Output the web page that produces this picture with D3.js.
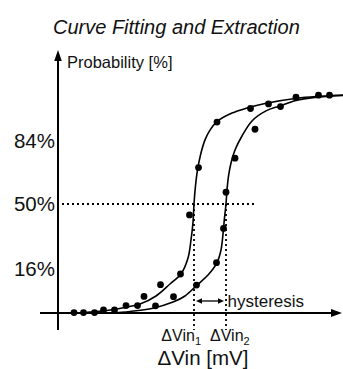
<!DOCTYPE html>
<html>
<head>
<meta charset="utf-8">
<script src="https://cdn.jsdelivr.net/npm/d3@7"></script>
<style>
  html, body { margin: 0; padding: 0; background: #fff; }
  svg { display: block; font-family: "Liberation Sans", Arial, Helvetica, sans-serif; }
</style>
</head>
<body>
<svg id="chart" width="343" height="369"></svg>
<script>
// ---------- data ----------
const title = "Curve Fitting and Extraction";
const yAxisLabel = "Probability [%]";
const xAxisLabel = "ΔVin [mV]";

// measured points, sweep 1 (left curve): ΔVin [mV], probability [%]
const dots1V = [3.2, 5.1, 7.3, 9.1, 11.3, 13.6, 15.9, 17.2, 20.5, 24.5, 26.3, 28.1, 31.8, 38.5, 42.1, 47.6, 52.1, 54.3];
const dots1P = [0.2, 0.2, 0.2, 1.4, 1.4, 3.4, 3.4, 7.6, 13.0, 17.9, 45.0, 66.7, 87.6, 93.8, 95.9, 99.0, 99.9, 99.9];
// measured points, sweep 2 (right curve)
const dots2V = [19.5, 23.1, 27.7, 31.7, 33.1, 33.6, 35.4, 39.4, 44.5];
const dots2P = [3.3, 7.5, 12.8, 23.1, 38.8, 55.4, 71.0, 84.3, 94.7];

// fitted curve 1
const fit1V = [3.4, 6.4, 9.4, 12.8, 16.4, 19.6, 22.4, 24.6, 26.0, 26.6, 27.0, 27.2, 27.5, 27.9, 28.5, 29.4, 30.4, 31.8, 34.8, 37.8, 41.4, 47.8, 52.4, 57.0];
const fit1P = [0, 0.4, 1.0, 2.3, 4.1, 7.8, 13.3, 17.9, 25.2, 33.5, 41.7, 50, 58.3, 65.6, 72.5, 79.4, 83.9, 87.8, 91.7, 94.0, 96.1, 98.5, 99.4, 100];
// fitted curve 2
const fit2V = [10.4, 14.4, 19.0, 23.0, 25.4, 27.8, 30.0, 31.8, 32.6, 33.0, 33.3, 33.6, 33.8, 34.1, 34.6, 35.4, 36.8, 38.8, 41.6, 44.4, 47.6, 51.4, 57.0];
const fit2P = [0, 0.7, 2.2, 5.0, 7.8, 12.8, 17.4, 23.1, 28.9, 36.2, 43.6, 50, 56.4, 62.8, 68.8, 74.8, 81.2, 88.1, 92.7, 95.0, 97.5, 98.9, 99.8];

// extracted thresholds
const vinLabels = [{base: "ΔVin", sub: "1"}, {base: "ΔVin", sub: "2"}];
const vinValues = [27.2, 33.6];
const thresholdP = 50;
const hysteresisLabel = "hysteresis";

// y tick labels (sigma positions of a normal distribution)
const tickSigma = [-1, 0, 1];
const tickLabels = ["16%", "50%", "84%"];

// ---------- chart ----------
const svg = d3.select("#chart");
const x = d3.scaleLinear().domain([0, 57]).range([58, 343]);
const y = d3.scaleLinear().domain([0, 100]).range([313, 95]);
const ySigma = d3.scaleLinear().domain([-1, 0, 1]).range([268.9, y(thresholdP), 140.3]);

// title
svg.append("text").attr("x", 53).attr("y", 34)
  .attr("font-size", 20).attr("font-style", "italic").attr("fill", "#111")
  .text(title);

// axes
const x0 = x(0), y0 = y(0);
svg.append("line").attr("x1", x0).attr("x2", x0).attr("y1", 330).attr("y2", 60)
  .attr("stroke", "#000").attr("stroke-width", 2);
svg.append("path").attr("d", `M${x0},50 L${x0 - 3.8},61 L${x0 + 3.8},61 Z`).attr("fill", "#000");
svg.append("line").attr("x1", 40).attr("x2", 333).attr("y1", y0).attr("y2", y0)
  .attr("stroke", "#000").attr("stroke-width", 2);
svg.append("path").attr("d", `M342,${y0} L331,${y0 - 4} L331,${y0 + 4} Z`).attr("fill", "#000");

svg.append("text").attr("x", 67).attr("y", 68).attr("font-size", 16.5).attr("fill", "#111")
  .text(yAxisLabel);

// tick labels
svg.selectAll("text.tick").data(tickSigma).join("text").attr("class", "tick")
  .attr("x", 55).attr("y", d => ySigma(d)).attr("dy", 7.2)
  .attr("text-anchor", "end").attr("font-size", 20.5).attr("fill", "#111")
  .text((d, i) => tickLabels[i]);

// dotted guides
svg.append("line").attr("x1", 62).attr("x2", 256).attr("y1", y(thresholdP)).attr("y2", y(thresholdP))
  .attr("stroke", "#000").attr("stroke-width", 1.8).attr("stroke-dasharray", "2,3");
vinValues.forEach(v => {
  svg.append("line").attr("x1", x(v)).attr("x2", x(v)).attr("y1", y(thresholdP)).attr("y2", 330)
    .attr("stroke", "#000").attr("stroke-width", 1.8).attr("stroke-dasharray", "2,3");
});

// fitted curves
const line = d3.line().x(d => x(d[0])).y(d => y(d[1])).curve(d3.curveCatmullRom.alpha(0.5));
[[fit1V, fit1P], [fit2V, fit2P]].forEach(([vs, ps]) => {
  svg.append("path").datum(vs.map((v, i) => [v, ps[i]])).attr("d", line)
    .attr("fill", "none").attr("stroke", "#000").attr("stroke-width", 1.6);
});

// measured points
const pts = dots1V.map((v, i) => [v, dots1P[i]]).concat(dots2V.map((v, i) => [v, dots2P[i]]));
svg.selectAll("circle.pt").data(pts).join("circle").attr("class", "pt")
  .attr("cx", d => x(d[0])).attr("cy", d => y(d[1])).attr("r", 3.4).attr("fill", "#000");

// hysteresis arrow
const ay = 301;
const ax1 = x(vinValues[0]) + 2, ax2 = x(vinValues[1]) - 2;
svg.append("line").attr("x1", ax1 + 4).attr("x2", ax2 - 4).attr("y1", ay).attr("y2", ay)
  .attr("stroke", "#000").attr("stroke-width", 1.3);
svg.append("path").attr("d", `M${ax1},${ay} L${ax1 + 6},${ay - 2.8} L${ax1 + 6},${ay + 2.8} Z`).attr("fill", "#000");
svg.append("path").attr("d", `M${ax2},${ay} L${ax2 - 6},${ay - 2.8} L${ax2 - 6},${ay + 2.8} Z`).attr("fill", "#000");
svg.append("text").attr("x", x(vinValues[1]) + 1.5).attr("y", 306.5).attr("font-size", 17).attr("fill", "#111")
  .text(hysteresisLabel);

// ΔVin labels: first ends left of the midpoint, second starts at the midpoint
const vinMid = (x(vinValues[0]) + x(vinValues[1])) / 2;
const vinText = svg.selectAll("text.vin").data(vinValues).join("text").attr("class", "vin")
  .attr("x", (d, i) => i === 0 ? vinMid - 9 : vinMid)
  .attr("y", 341)
  .attr("text-anchor", (d, i) => i === 0 ? "end" : "start")
  .attr("font-size", 16).attr("fill", "#111");
vinText.each(function(d, i) {
  const t = d3.select(this);
  t.append("tspan").text(vinLabels[i].base);
  t.append("tspan").attr("font-size", 11).attr("dy", 3.5).text(vinLabels[i].sub);
});

// x axis label
svg.append("text").attr("x", 203).attr("y", 365).attr("text-anchor", "middle")
  .attr("font-size", 20.5).attr("fill", "#111").text(xAxisLabel);
</script>
</body>
</html>
